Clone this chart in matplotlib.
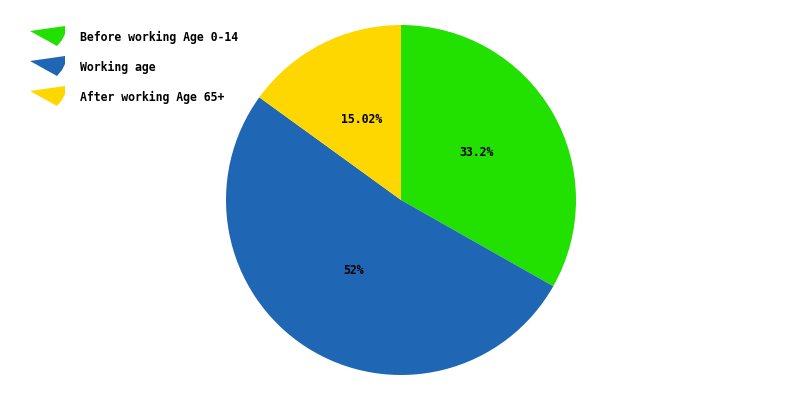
import matplotlib.pyplot as plt
from matplotlib.patches import Polygon

categories = ['Before working Age 0-14', 'Working age', 'After working Age 65+']
values = [33.2, 51.78, 15.02]
pct_labels = ['33.2%', '52%', '15.02%']
colors = ['#22e000', '#1f66b4', '#ffd700']

fig = plt.figure(figsize=(8, 4), dpi=100)
ax = fig.add_axes([0, 0, 1, 1])

lab = iter(pct_labels)
wedges, texts, autotexts = ax.pie(values, colors=colors, startangle=90, counterclock=False,
                                  center=(401, 200), radius=175, pctdistance=0.5,
                                  autopct=lambda p: next(lab), frame=True,
                                  textprops=dict(family='DejaVu Sans Mono', fontsize=8.3,
                                                 fontweight='bold', color='black'))
for t in autotexts:
    x, y = t.get_position()
    t.set_position((x, y + 3))
ax.set_xlim(0, 800)
ax.set_ylim(0, 400)
ax.set_aspect('equal')
ax.axis('off')

# legend with wedge-shaped icons
for i, (name, c) in enumerate(zip(categories, colors)):
    y0 = 400 - (26 + i * 30)
    icon = [(30, y0 - 5), (65, y0), (65, y0 - 8), (62, y0 - 14), (57, y0 - 20)]
    ax.add_patch(Polygon(icon, closed=True, facecolor=c, edgecolor='none'))
    ax.text(80, y0 - 11, name, family='DejaVu Sans Mono', fontsize=8.3,
            fontweight='bold', va='center', ha='left')

fig.savefig('out.png', dpi=100)
